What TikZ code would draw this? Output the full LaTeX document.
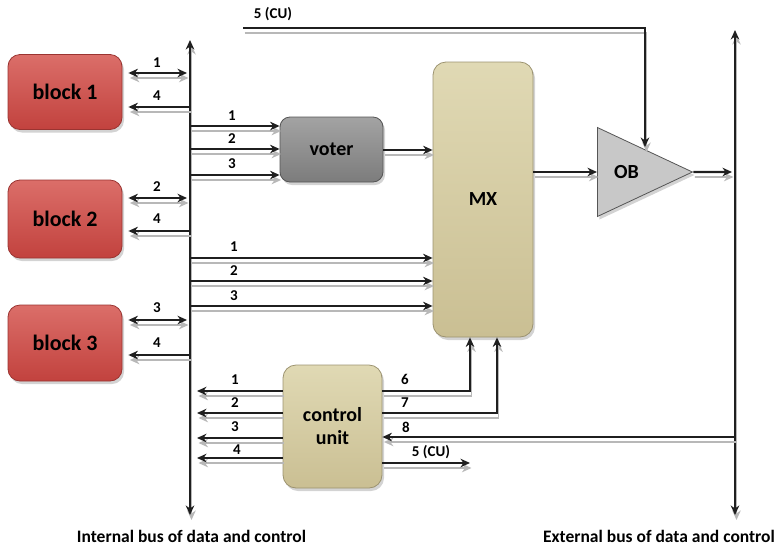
\documentclass[tikz,border=0pt]{standalone}
\usepackage{fontspec}
\setmainfont{Carlito}
\usetikzlibrary{arrows.meta,shapes.geometric,shadows}
\definecolor{redtop}{HTML}{DB6E69}
\definecolor{redbot}{HTML}{C2423E}
\definecolor{redline}{HTML}{9A3431}
\definecolor{greytop}{HTML}{A3A3A3}
\definecolor{greybot}{HTML}{7C7C7C}
\definecolor{greyline}{HTML}{555555}
\definecolor{tantop}{HTML}{E0D9B4}
\definecolor{tanbot}{HTML}{CABF93}
\definecolor{tanline}{HTML}{9C9370}
\definecolor{buffill}{HTML}{C8C8C8}
\tikzset{
  tip/.tip={Stealth[length=9.5pt,width=8.5pt,inset=3pt]},
  wire/.style={line width=2.1pt, draw=black!88,
    preaction={draw=black!28, line width=1.6pt,
      transform canvas={shift={(1.5pt,-5pt)}}}},
  arr/.style={wire, -tip},
  darr/.style={wire, tip-tip},
  num/.style={font=\bfseries\fontsize{15}{15}\selectfont, inner sep=0pt},
  buslabel/.style={font=\bfseries\fontsize{17.5}{17.5}\selectfont, inner sep=0pt},
  boxbase/.style={draw, line width=0.8pt,
    drop shadow={shadow xshift=2pt, shadow yshift=-3pt, opacity=0.35},
    font=\bfseries\fontsize{20}{23}\selectfont, align=center, inner sep=0pt},
  redbox/.style={boxbase, rounded corners=12pt, draw=redline,
    top color=redtop, bottom color=redbot,
    minimum width=114pt, font=\bfseries\fontsize{22}{23}\selectfont},
  greybox/.style={boxbase, rounded corners=10pt, draw=greyline,
    top color=greytop, bottom color=greybot},
  tanbox/.style={boxbase, rounded corners=13pt, draw=tanline,
    top color=tantop, bottom color=tanbot},
}
\begin{document}
\begin{tikzpicture}[x=1pt,y=-1pt]
\useasboundingbox (0,0) rectangle (777,547);

% functional blocks
\node[redbox, minimum height=75pt] (b1) at (65,92) {block 1};
\node[redbox, minimum height=78pt] (b2) at (65,219) {block 2};
\node[redbox, minimum height=76pt] (b3) at (65,343) {block 3};
\node[greybox, minimum width=103pt, minimum height=65pt] (vot) at (331.5,149.5) {voter};
\node[tanbox, minimum width=100pt, minimum height=275pt] (mx) at (483,199.5) {MX};
\node[tanbox, minimum width=99pt, minimum height=123pt] (cu) at (332.5,426.5) {control\\unit};
\node[isosceles triangle, isosceles triangle stretches, shape border rotate=0,
      minimum width=89pt, minimum height=95pt, inner sep=0pt, anchor=west,
      draw=greyline, line width=0.8pt, fill=buffill,
      drop shadow={shadow xshift=2pt, shadow yshift=-3pt, opacity=0.35},
      font=\bfseries\fontsize{20}{23}\selectfont] (ob) at (597,172) {OB};

% buses
\coordinate (ibT) at (190,40);
\coordinate (ibB) at (190,515);
\coordinate (ebT) at (735,30);
\coordinate (ebB) at (735,515);
\draw[darr] (ibB) -- (ibT);
\draw[darr] (ebB) -- (ebT);
\node[buslabel] (ibl) at (191.5,536) {Internal bus of data and control};
\node[buslabel] (ebl) at (659,536) {External bus of data and control};

% block taps on the internal bus
\coordinate (t1a) at (187,73);  \coordinate (t1b) at (190,107);
\coordinate (t2a) at (187,198); \coordinate (t2b) at (190,231);
\coordinate (t3a) at (187,320); \coordinate (t3b) at (190,355);
\draw[darr] ([xshift=6pt]b1.east |- t1a) -- (t1a);
\draw[arr] (t1b) -- ([xshift=6pt]b1.east |- t1b);
\draw[darr] ([xshift=6pt]b2.east |- t2a) -- (t2a);
\draw[arr] (t2b) -- ([xshift=6pt]b2.east |- t2b);
\draw[darr] ([xshift=6pt]b3.east |- t3a) -- (t3a);
\draw[arr] (t3b) -- ([xshift=6pt]b3.east |- t3b);
\node[num] (n11) at (157,63) {1};  \node[num] (n14) at (157,96) {4};
\node[num] (n22) at (157,187) {2}; \node[num] (n24) at (157,219) {4};
\node[num] (n33) at (157,308) {3}; \node[num] (n34) at (157,343) {4};

% voter inputs
\coordinate (v1) at (190,126); \coordinate (v2) at (190,149); \coordinate (v3) at (190,175);
\draw[arr] (v1) -- (vot.west |- v1);
\draw[arr] (v2) -- (vot.west |- v2);
\draw[arr] (v3) -- (vot.west |- v3);
\node[num] (nv1) at (232,116) {1};
\node[num] (nv2) at (232,139) {2};
\node[num] (nv3) at (232,164) {3};
\draw[arr] (vot.east |- 0,150) -- (mx.west |- 0,150);

% direct multiplexer inputs
\coordinate (m1) at (190,258); \coordinate (m2) at (190,281); \coordinate (m3) at (190,306);
\draw[arr] (m1) -- (mx.west |- m1);
\draw[arr] (m2) -- (mx.west |- m2);
\draw[arr] (m3) -- (mx.west |- m3);
\node[num] (nm1) at (234,247) {1};
\node[num] (nm2) at (234,271) {2};
\node[num] (nm3) at (234,296) {3};

% multiplexer to output buffer to external bus
\draw[arr] (mx.east |- 0,172) -- (ob.west);
\coordinate (obo) at (732,172);
\draw[arr] (ob.apex) -- (obo);

% buffer enable from the control unit
\coordinate (cuS) at (243,28);
\coordinate (cuE) at (645,147);
\draw[arr] (cuS) -| (cuE);
\node[num] (n5t) at (273,14) {5 (CU)};

% control unit outputs to the internal bus
\coordinate (c1) at (197,391); \coordinate (c2) at (197,413);
\coordinate (c3) at (197,438); \coordinate (c4) at (197,458);
\draw[arr] (cu.west |- c1) -- (c1);
\draw[arr] (cu.west |- c2) -- (c2);
\draw[arr] (cu.west |- c3) -- (c3);
\draw[arr] (cu.west |- c4) -- (c4);
\node[num] (nc1) at (235,380) {1};
\node[num] (nc2) at (235,403) {2};
\node[num] (nc3) at (235,427) {3};
\node[num] (nc4) at (237,450) {4};

% control unit to multiplexer select lines
\coordinate (s6) at (470,391);
\coordinate (s7) at (497,413);
\draw[arr] (cu.east |- s6) -- (s6) -- (s6 |- mx.south);
\draw[arr] (cu.east |- s7) -- (s7) -- (s7 |- mx.south);
\node[num] (n6) at (405,379) {6};
\node[num] (n7) at (405,403) {7};

% external bus to control unit, and buffer enable output
\coordinate (e8) at (735,437);
\draw[arr] (e8) -- (cu.east |- e8);
\node[num] (n8) at (406,427) {8};
\coordinate (o5) at (470,463);
\draw[arr] (cu.east |- o5) -- (o5);
\node[num] (n5b) at (431,452) {5 (CU)};
\end{tikzpicture}
\end{document}
